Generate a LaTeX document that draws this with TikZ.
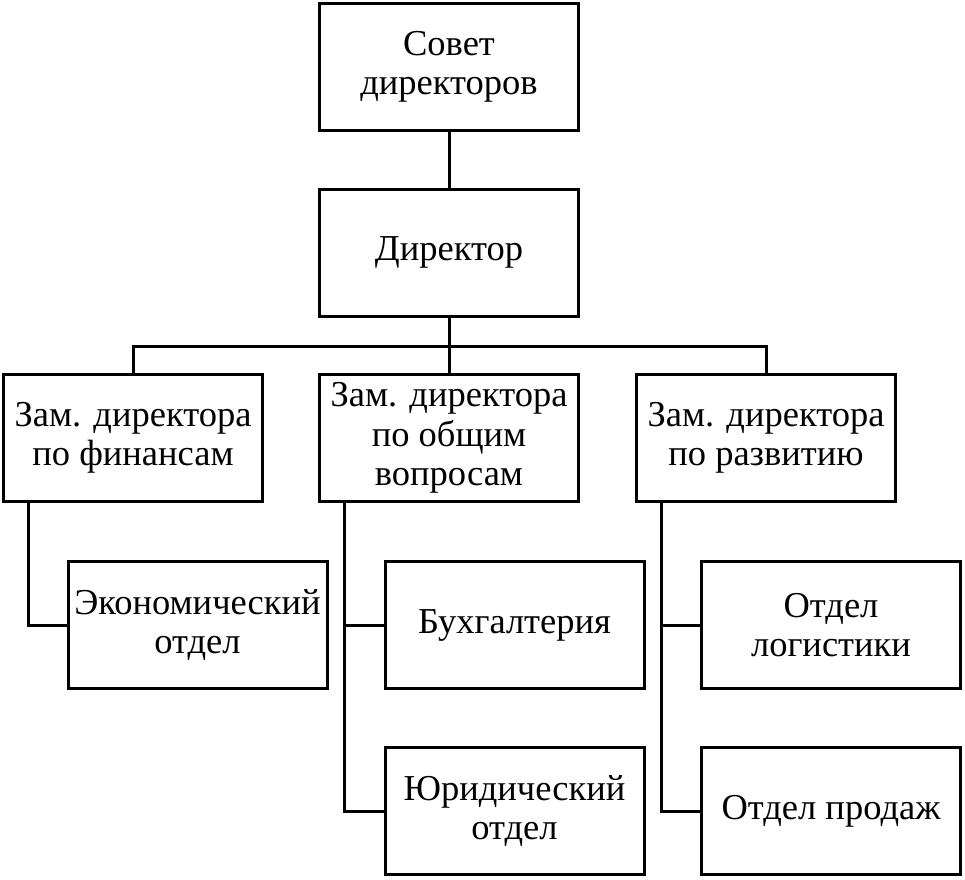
\documentclass[tikz,border=0pt]{standalone}
\usepackage{fontspec}
\setmainfont{Liberation Serif}
\usetikzlibrary{calc}
\begin{document}
\begin{tikzpicture}[x=1pt,y=-1pt,
  box/.style={draw,line width=3pt,minimum width=259pt,minimum height=127pt,align=center,inner sep=1pt,font=\fontsize{36.5}{39.5}\selectfont},
  conn/.style={line width=3pt}]
\useasboundingbox (0,0) rectangle (965,879);
\node[box] (sovet) at (449,67) {Совет\\директоров};
\node[box] (dir) at (449,252.5) {Директор};
\node[box] (f1) at (133,438) {Зам. директора\\по финансам};
\node[box] (f2) at (449,438) {Зам. директора\\по общим\\вопросам};
\node[box] (f3) at (766,438) {Зам. директора\\по развитию};
\node[box] (eco) at (197.5,625) {Экономический\\отдел};
\node[box] (buh) at (514.5,625) {Бухгалтерия};
\node[box] (log) at (831,625) {Отдел\\логистики};
\node[box] (jur) at (514.5,811) {Юридический\\отдел};
\node[box] (prod) at (831,811) {Отдел продаж};
\coordinate (bus) at (449,346);
\draw[conn] (sovet) -- (dir);
\draw[conn] (dir.south) -- (bus);
\draw[conn] (f1.north) |- (bus) -| (f3.north);
\draw[conn] (bus) -- (f2.north);
\coordinate (s1) at ($(f1.south west)+(26,0)$);
\coordinate (s2) at ($(f2.south west)+(26,0)$);
\coordinate (s3) at ($(f3.south west)+(26,0)$);
\draw[conn] (s1) |- (eco.west);
\draw[conn] (s2) |- (jur.west);
\draw[conn] (s2 |- buh.west) -- (buh.west);
\draw[conn] (s3) |- (prod.west);
\draw[conn] (s3 |- log.west) -- (log.west);
\end{tikzpicture}
\end{document}
